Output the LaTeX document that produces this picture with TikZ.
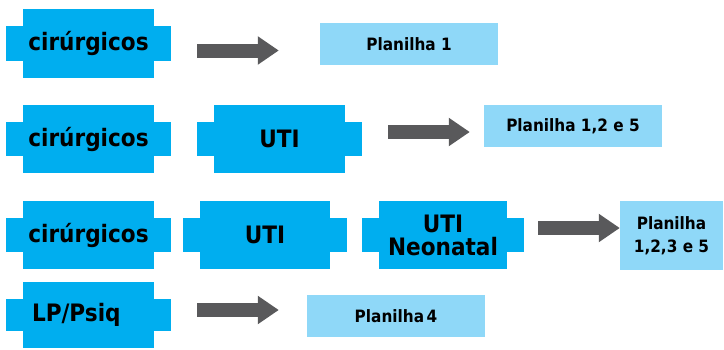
\documentclass[tikz,border=0pt]{standalone}
\usepackage{fontspec}
\setmainfont{DejaVu Sans}
\newfontfamily\boxfont[FakeStretch=0.9]{DejaVu Sans}
\usetikzlibrary{arrows.meta}
\definecolor{cyanbox}{RGB}{0,174,239}
\definecolor{lightbox}{RGB}{143,216,248}
\definecolor{arrowgray}{RGB}{89,89,91}
\begin{document}
\begin{tikzpicture}[x=1pt,y=-1pt,
  crossbox/.style={inner sep=0pt, align=center,
    font=\boxfont\fontsize{24}{23}\selectfont\bfseries,
    path picture={
      \fill[cyanbox] ([xshift=17pt]path picture bounding box.south west) rectangle ([xshift=-17pt]path picture bounding box.north east);
      \fill[cyanbox] ([yshift=17pt]path picture bounding box.south west) rectangle ([yshift=-17pt]path picture bounding box.north east);
    }},
  sheetbox/.style={fill=lightbox, inner sep=0pt, align=center,
    font=\boxfont\fontsize{17}{23}\selectfont\bfseries},
  bigarrow/.style={draw=arrowgray, line width=14pt,
    -{Triangle[length=21pt,width=27pt]}}]
\useasboundingbox (0,0) rectangle (724,349);

% row 1
\node[crossbox, minimum width=165pt, minimum height=69pt] (c1) at (88.5,43.5) {cirúrgicos};
\node[sheetbox, minimum width=178pt, minimum height=42pt] (p1) at (409,44) {Planilha 1};
\draw[bigarrow, shorten <=26pt, shorten >=41pt] ([yshift=-7pt]c1.east) -- ([yshift=-7pt]c1.east -| p1.west);

% row 2
\node[crossbox, minimum width=165pt, minimum height=68pt] (c2) at (88.5,139) {cirúrgicos};
\node[crossbox, minimum width=165pt, minimum height=68pt] (u2) at (279.5,139) {UTI};
\node[sheetbox, minimum width=178pt, minimum height=42pt] (p2) at (573,126) {Planilha 1,2 e 5};
\draw[bigarrow, shorten <=26pt, shorten >=14pt] ([yshift=7pt]u2.east) -- ([yshift=7pt]u2.east -| p2.west);

% row 3
\node[crossbox, minimum width=165pt, minimum height=68pt] (c3) at (88.5,235) {cirúrgicos};
\node[crossbox, minimum width=164pt, minimum height=68pt] (u3) at (265,235) {UTI};
\node[crossbox, minimum width=162pt, minimum height=68pt] (n3) at (443,235) {UTI\\Neonatal};
\node[sheetbox, minimum width=103pt, minimum height=69pt] (p3) at (671.5,235.5) {Planilha\\1,2,3 e 5};
\draw[bigarrow, shorten <=14pt, shorten >=0pt] ([yshift=7pt]n3.east) -- ([yshift=7pt]n3.east -| p3.west);

% row 4
\node[crossbox, minimum width=165pt, minimum height=66pt, text width=113pt, align=left] (lp) at (88.5,315) {LP/Psiq};
\node[sheetbox, minimum width=178pt, minimum height=42pt] (p4) at (396,316) {Planilha\hspace{0.15em}4};
\draw[bigarrow, shorten <=26pt, shorten >=28pt] ([yshift=5pt]lp.east) -- ([yshift=5pt]lp.east -| p4.west);
\end{tikzpicture}
\end{document}
